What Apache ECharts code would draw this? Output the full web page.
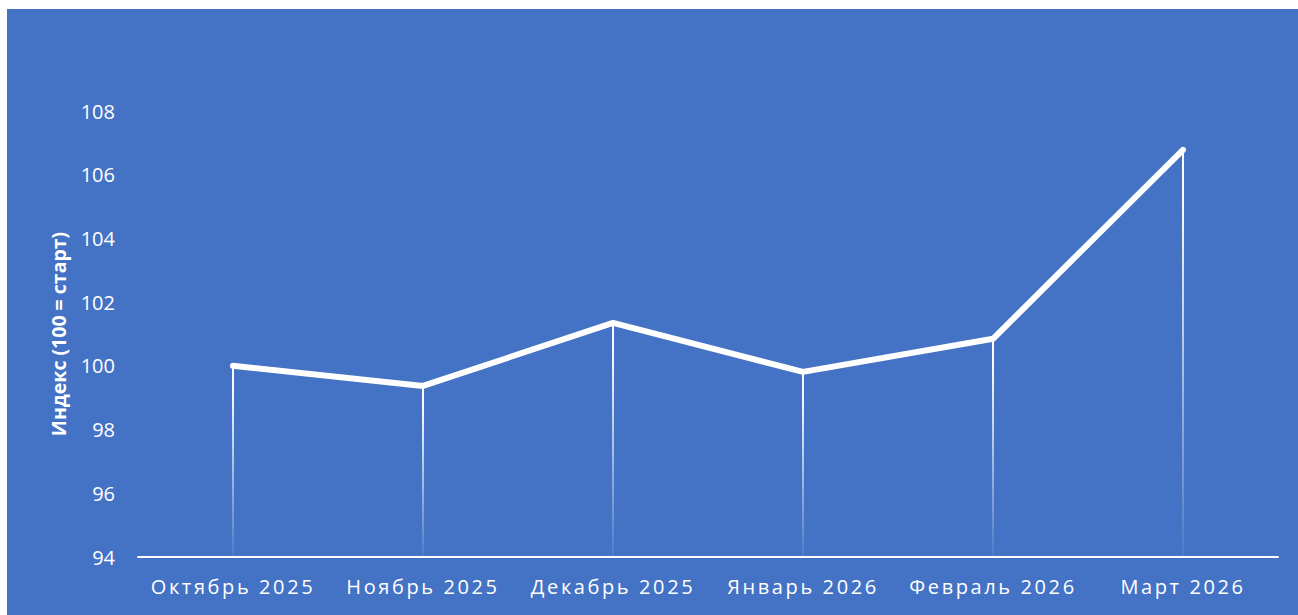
<!DOCTYPE html>
<html>
<head>
<meta charset="utf-8">
<script src="https://cdn.jsdelivr.net/npm/echarts@6/dist/echarts.min.js"></script>
<style>
  html, body { margin: 0; padding: 0; background: #ffffff; }
  #chart { position: absolute; left: 7px; top: 9px; width: 1291px; height: 606px; background: #4472C4; }
</style>
</head>
<body>
<div id="chart"></div>
<script>
const categories = ['Октябрь 2025', 'Ноябрь 2025', 'Декабрь 2025', 'Январь 2026', 'Февраль 2026', 'Март 2026'];
const indexValues = [100.0, 99.37, 101.35, 99.81, 100.85, 106.78];
const yAxisName = 'Индекс (100 = старт)';
const yMin = 94, yMax = 108, yStep = 2;

const chart = echarts.init(document.getElementById('chart'), null, { renderer: 'svg' });
const fontFam = '"Open Sans", "Noto Sans", sans-serif';

chart.setOption({
  backgroundColor: '#4472C4',
  animation: false,
  grid: { left: 131, right: 20, top: 102, bottom: 58 },
  xAxis: {
    type: 'category',
    data: categories,
    boundaryGap: true,
    axisLine: { show: true, lineStyle: { color: '#ffffff', width: 2 } },
    axisTick: { show: false },
    axisLabel: { color: '#ffffff', fontSize: 20, fontFamily: fontFam, margin: 19, interval: 0 },
    splitLine: { show: false }
  },
  yAxis: {
    type: 'value',
    min: yMin, max: yMax, interval: yStep,
    name: yAxisName,
    nameLocation: 'middle',
    nameGap: 70,
    nameRotate: 90,
    nameTextStyle: { color: '#ffffff', fontSize: 19.5, fontWeight: 'bold', fontFamily: fontFam },
    axisLine: { show: false },
    axisTick: { show: false },
    axisLabel: { color: '#ffffff', fontSize: 20, fontFamily: fontFam, margin: 23 },
    splitLine: { show: false }
  },
  series: [
    {
      type: 'bar',
      stack: 'drop',
      data: indexValues.map(() => yMin),
      barWidth: 2,
      itemStyle: { color: 'rgba(0,0,0,0)' },
      silent: true
    },
    {
      type: 'bar',
      stack: 'drop',
      data: indexValues.map(v => v - yMin),
      barWidth: 2,
      itemStyle: {
        color: new echarts.graphic.LinearGradient(0, 0, 0, 1, [
          { offset: 0, color: 'rgba(255,255,255,1)' },
          { offset: 0.15, color: 'rgba(255,255,255,0.95)' },
          { offset: 1, color: 'rgba(255,255,255,0.05)' }
        ])
      },
      silent: true
    },
    {
      type: 'line',
      data: indexValues,
      showSymbol: false,
      symbol: 'none',
      lineStyle: { color: '#ffffff', width: 6, cap: 'round', join: 'round' },
      z: 5
    }
  ]
});

// Widen x-axis category labels with letter spacing, as in the reference
document.querySelectorAll('#chart text').forEach(t => {
  if (categories.includes(t.textContent.trim())) {
    t.style.letterSpacing = '2.6px';
  }
});
</script>
</body>
</html>
